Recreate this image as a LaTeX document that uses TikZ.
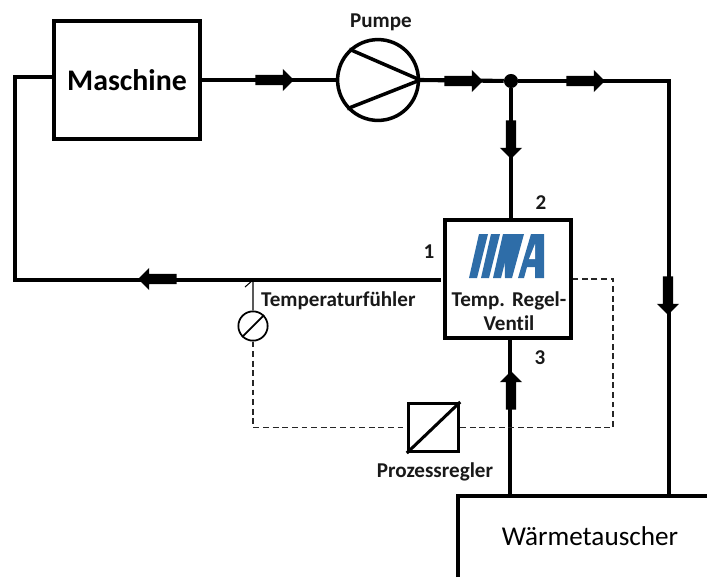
\documentclass[tikz,border=0pt]{standalone}
\usepackage{xcolor}
\usepackage{fontspec}
\setmainfont{Carlito}[Ligatures=CommonOff]
\usetikzlibrary{calc,positioning,shapes.arrows}
\definecolor{MVABlue}{HTML}{2E6DA8}
\tikzset{
  pipe/.style={draw=black,line width=3.5pt},
  block/.style={draw=black,line width=3.4pt,inner sep=0pt,align=center,fill=white},
  symbol/.style={draw=black,circle,inner sep=0pt,fill=white},
  signal/.style={draw=black!85,line width=.9pt,dash pattern=on 5pt off 3.2pt},
  flowmark/.style={
    single arrow,
    fill=black,
    inner sep=0pt,
    text height=8.5pt,
    text depth=0pt,
    minimum height=33pt,
    single arrow head extend=5pt
  },
  label/.style={font=\bfseries\fontsize{18}{21}\selectfont,inner sep=0pt,text=black!90}
}
\begin{document}
\begin{tikzpicture}[x=.03cm,y=-.03cm]
  \useasboundingbox (0,0) rectangle (707,577);

  \coordinate (maschineout) at (53,77);
  \coordinate (retleft) at (15,77);
  \coordinate (retbottom) at (15,280);
  \coordinate (corner) at (669,81);
  \coordinate (hxleft) at (510,496);
  \coordinate (hxright) at (669,496);
  \coordinate (hxtop) at (458,496);
  \coordinate (hxbottom) at (458,577);
  \coordinate (hxend) at (707,496);
  \coordinate (dashcorner) at (613,279);
  \coordinate (tap) at (253,280);
  \coordinate (tick) at (245,287);

  % main circuit
  \node[block,minimum width=125pt,minimum height=100pt,font=\bfseries\fontsize{25.5}{28}\selectfont] (maschine) at (127,80) {Maschine};
  \node[symbol,line width=3pt,minimum size=69pt] (pumpe) at (378,80) {};
  \node[block,minimum width=107pt,minimum height=100pt] (valve) at (508,279) {};
  \node[fill=black,circle,inner sep=0pt,minimum size=12pt] (junction) at (511,81) {};

  \draw[pipe] (maschine.east) -- (pumpe.west);
  \draw[pipe] (pumpe.east) -- (junction);
  \draw[pipe] (junction) -- (corner) -- (hxright);
  \draw[pipe] (junction) -- (valve.north -| junction);
  \draw[pipe] (valve.south -| hxleft) -- (hxleft);
  \draw[pipe] (maschineout) -- (retleft) -- (retbottom) -- ($(valve.west)+(-2,1)$);
  \draw[line width=3pt] (pumpe.133) -- (pumpe.east) -- (pumpe.-137);

  % heat exchanger is cut off by the page
  \draw[line width=3.4pt] (hxbottom) -- (hxtop) -- (hxend);
  \node[font=\fontsize{23.2}{26}\selectfont,inner sep=0pt] (hx) at (590,536) {Wärmetauscher};

  % flow direction
  \node[flowmark] (flowa) at (272,80) {};
  \node[flowmark] (flowb) at (461,81) {};
  \node[flowmark] (flowc) at (583,81) {};
  \node[flowmark,rotate=-90] (flowd) at (511,137) {};
  \node[flowmark,rotate=180] (flowe) at (160,279) {};
  \node[flowmark,rotate=-90] (flowf) at (668,293) {};
  \node[flowmark,rotate=90] (flowg) at (511,393) {};

  % control loop
  \node[symbol,line width=1.5pt,minimum size=25pt] (sensor) at (253,326) {};
  \node[block,line width=2.6pt,minimum width=43pt,minimum height=41pt] (regler) at (433.5,427.5) {};
  \draw[line width=1.5pt] (sensor.225) -- (sensor.45);
  \draw[line width=2.6pt] (regler.south west) -- (regler.north east);
  \draw[line width=.9pt] (sensor.north) -- (tap) -- (tick);
  \draw[signal] (sensor.south) |- (regler.west);
  \draw[signal] (regler.east) -| (dashcorner) -- (valve.east);

  % logo
  \fill[MVABlue] (469,278) -- (477,278) -- (488,234) -- (479,234) -- cycle;
  \fill[MVABlue] (481,278) -- (489,278) -- (500,234) -- (491,234) -- cycle;
  \fill[MVABlue] (493,278) -- (501,278) -- (512,234) -- (503,234) -- cycle;
  \fill[MVABlue] (505,278) -- (512,278) -- (524,234) -- (504,234) -- cycle;
  \fill[MVABlue] (518,278) -- (531,234) -- (544,234) -- (544,278) -- (535,278) -- (535,267) -- (527,267) -- (524,278) -- cycle;
  \fill[white] (529,259) -- (535,259) -- (535,244) -- cycle;

  % labels
  \node[label] (pumpelabel) at (381,22) {Pumpe};
  \node[label,text width=120pt,align=center,font=\bfseries\fontsize{18}{21}\selectfont] (valvelabel) at (509,311) {Temp.\ Regel-\\Ventil};
  \node[label] (porta) at (429,252) {1};
  \node[label] (portb) at (541,203) {2};
  \node[label] (portc) at (540,358) {3};
  \node[label,anchor=west] (sensorlabel) at (261,301) {Temperaturfühler};
  \node[label] (reglerlabel) at (435,472) {Prozessregler};
\end{tikzpicture}
\end{document}
